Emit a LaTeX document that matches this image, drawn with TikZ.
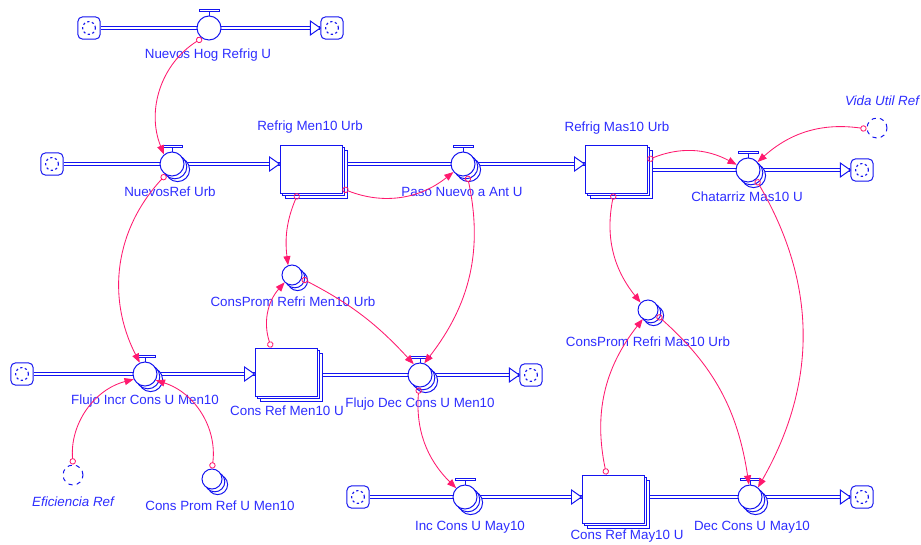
\documentclass[tikz,border=0pt]{standalone}
\usepackage{fontspec}
\setmainfont{Liberation Sans}
\usetikzlibrary{positioning,shadows,arrows.meta,backgrounds}

\definecolor{sfblue}{RGB}{20,20,240}
\definecolor{sftxt}{RGB}{45,45,255}
\definecolor{sfpink}{RGB}{255,25,110}

\tikzset{
  sfline/.style={draw=sfblue, line width=0.7pt},
  pipe/.style={draw=sfblue, line width=0.6pt, double=white, double distance=1.6pt},
  stacked/.style={double copy shadow={shadow xshift=0.07cm, shadow yshift=-0.07cm}},
  stock/.style={sfline, fill=white, rectangle, minimum width=1.55cm, minimum height=1.2cm, inner sep=0pt},
  valve/.style={sfline, fill=white, circle, minimum size=0.6cm, inner sep=0pt},
  conv/.style={sfline, fill=white, circle, minimum size=0.5cm, inner sep=0pt},
  ghost/.style={conv, dashed},
  cloud/.style={sfline, fill=white, rounded corners=3.5pt, minimum size=0.56cm, inner sep=0pt,
    path picture={\draw[sfblue, line width=0.8pt, dash pattern=on 1.6pt off 1.8pt]
      (path picture bounding box.center) circle (0.16cm);}},
  link/.style={draw=sfpink, line width=0.6pt,
    {Circle[open, length=4.5pt, width=4.5pt]}-{Triangle[length=6.5pt, width=5pt]}},
  sftext/.style={text=sftxt, font=\fontsize{9.5}{11}\selectfont, inner sep=0pt},
  pics/tip/.style={code={\draw[sfline, fill=white] (-10,-7) -- (0,0) -- (-10,7) -- cycle;}}
}

\begin{document}
\begin{tikzpicture}[x=0.025cm, y=-0.025cm]
\useasboundingbox (0,0) rectangle (921,545);

% top flow
\node[cloud] (c1a) at (89,28) {};
\node[valve] (nhr) at (209,28) {};
\node[cloud] (c1b) at (332,28) {};

% refrigerators: new and old
\node[cloud] (c2a) at (52,164) {};
\node[valve, stacked] (nru) at (172,164) {};
\node[stock, stacked] (rm10) at (311,169) {};
\node[valve, stacked] (pna) at (463,164) {};
\node[stock, stacked] (rM10) at (616,169) {};
\node[valve, stacked] (cmu) at (748,170) {};
\node[cloud] (c2b) at (862,170) {};
\node[ghost] (vur) at (877,128) {};

% average consumption
\node[conv, stacked] (cpm) at (292,275) {};
\node[conv, stacked] (cpM) at (648,310) {};

% consumption under 10 years
\node[cloud] (c3a) at (22,374) {};
\node[valve, stacked] (fic) at (145,374) {};
\node[stock, stacked] (crm) at (286,372) {};
\node[valve, stacked] (fdc) at (420,375) {};
\node[cloud] (c3b) at (531,375) {};
\node[ghost] (efr) at (73,475) {};
\node[conv, stacked] (cpu) at (212,479) {};

% consumption over 10 years
\node[cloud] (c4a) at (358,497) {};
\node[valve, stacked] (icu) at (465,497) {};
\node[stock, stacked] (crM) at (613,499) {};
\node[valve, stacked] (dcu) at (750,497) {};
\node[cloud] (c4b) at (862,497) {};

% pipes
\begin{scope}[on background layer]
\draw[pipe] (c1a) -- (c1b);
\draw[pipe] (c2a) -- (nru) -- (nru -| rm10.west);
\draw[pipe] (nru -| rm10.east) -- (pna) -- (pna -| rM10.west);
\draw[pipe] (cmu -| rM10.east) -- (cmu) -- (c2b);
\draw[pipe] (c3a) -- (fic) -- (fic -| crm.west);
\draw[pipe] (fdc -| crm.east) -- (fdc) -- (c3b);
\draw[pipe] (c4a) -- (icu) -- (icu -| crM.west);
\draw[pipe] (dcu -| crM.east) -- (dcu) -- (c4b);
\end{scope}
\pic at (c1b.west) {tip};
\pic at (nru -| rm10.west) {tip};
\pic at (pna -| rM10.west) {tip};
\pic at (c2b.west) {tip};
\pic at (fic -| crm.west) {tip};
\pic at (c3b.west) {tip};
\pic at (icu -| crM.west) {tip};
\pic at (c4b.west) {tip};

% valve handles
\foreach \v in {nhr,nru,pna,cmu,fic,fdc,icu,dcu}{
  \draw[sfline] (\v.north) -- ++(0,-4);
  \draw[sfline, fill=white] (\v.north) ++(-10,-4) rectangle ++(20,-2.5);
}

% names
\node[sftext] (nhr-t) at (208,55) {Nuevos Hog Refrig U};
\node[sftext] (nru-t) at (170,192) {NuevosRef Urb};
\node[sftext] (rm10-t) at (310,127) {Refrig Men10 Urb};
\node[sftext] (pna-t) at (462,192) {Paso Nuevo a Ant U};
\node[sftext] (rM10-t) at (617,128) {Refrig Mas10 Urb};
\node[sftext] (cmu-t) at (747,197) {Chatarriz Mas10 U};
\node[sftext, font=\fontsize{9.5}{11}\selectfont\itshape] (vur-t) at (882,101) {Vida Util Ref};
\node[sftext] (cpm-t) at (293,302) {ConsProm Refri Men10 Urb};
\node[sftext] (cpM-t) at (648,342) {ConsProm Refri Mas10 Urb};
\node[sftext] (fic-t) at (145,401) {Flujo Incr Cons U Men10};
\node[sftext] (crm-t) at (287,411) {Cons Ref Men10 U};
\node[sftext] (fdc-t) at (420,404) {Flujo Dec Cons U Men10};
\node[sftext, font=\fontsize{9.5}{11}\selectfont\itshape] (efr-t) at (73,502) {Eficiencia Ref};
\node[sftext] (cpu-t) at (220,506) {Cons Prom Ref U Men10};
\node[sftext] (icu-t) at (470,527) {Inc Cons U May10};
\node[sftext] (crM-t) at (627,536) {Cons Ref May10 U};
\node[sftext] (dcu-t) at (752,527) {Dec Cons U May10};

% connectors
\draw[link] (nhr.235) to[bend right=40] (nru.130);
\draw[link] (nru.240) to[bend right=35] (fic.115);
\draw[link] (rm10.242) to[bend right=15] (cpm.112);
\draw[link] (rm10.328) to[bend right=30] (pna.220);
\draw[link] (pna.290) to[bend left=25] (fdc.70);
\draw[link] (cpm.340) to[bend left=10] (fdc.120);
\draw[link] (crm.121) to[bend left=30] (cpm.225);
\draw[link] (fdc.265) to[bend right=25] (icu.135);
\draw[link] (rM10.265) to[bend right=25] (cpM.135);
\draw[link] (rM10.16) to[bend left=25] (cmu.155);
\draw[link] (vur.185) to[bend right=25] (cmu.40);
\draw[link] (cmu.310) to[bend left=30] (dcu.50);
\draw[link] (cpM.330) to[bend left=20] (dcu.95);
\draw[link] (crM.105) to[bend left=25] (cpM.240);
\draw[link] (efr.90) to[bend left=40] (fic.205);
\draw[link] (cpu.90) to[bend right=40] (fic.330);
\end{tikzpicture}
\end{document}
